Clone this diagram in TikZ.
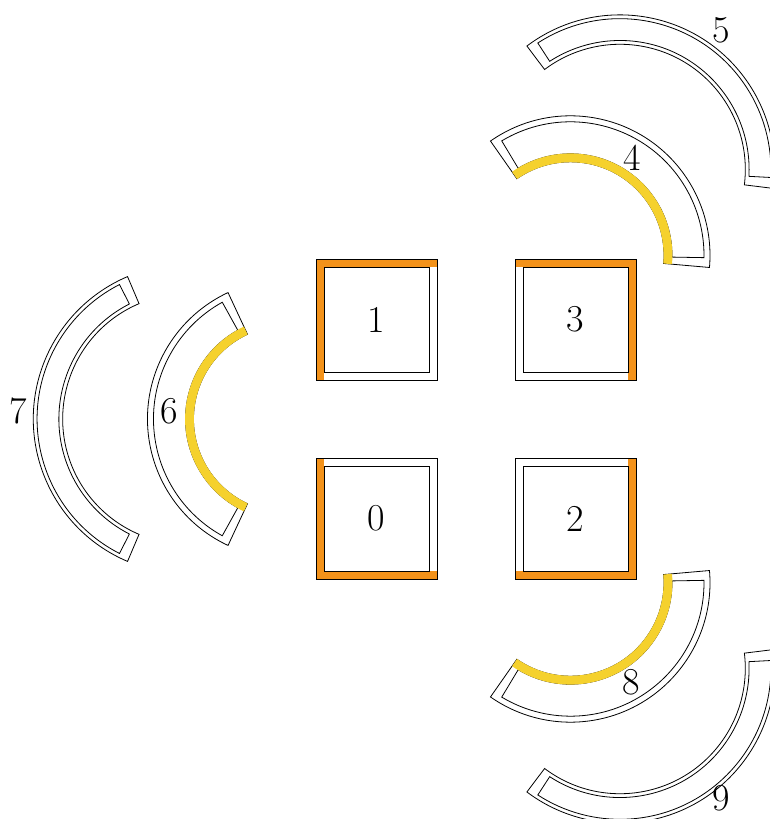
\documentclass[tikz,border=0pt]{standalone}
\usetikzlibrary{calc}
\definecolor{frameorange}{RGB}{243,146,26}
\definecolor{frameyellow}{RGB}{245,209,45}
\tikzset{
  outline/.style={draw=black, line width=0.8pt},
  numlabel/.style={inner sep=0pt, font=\fontsize{38}{40}\selectfont},
}
% inner ring piece with yellow inner strip: #1 centre, #2 middle angle
\newcommand\ringInner[2]{%
  \begin{scope}[shift={(#1)}]
    \draw[outline] ({#2-65}:93.5) arc[start angle={#2-65}, end angle={#2+65}, radius=93.5]
      -- ({#2+65}:139.5) arc[start angle={#2+65}, end angle={#2-65}, radius=139.5] -- cycle;
    \draw[outline] ({#2-61}:101.5) arc[start angle={#2-61}, end angle={#2+61}, radius=101.5]
      -- ({#2+61}:133.5) arc[start angle={#2+61}, end angle={#2-61}, radius=133.5] -- cycle;
    \fill[frameyellow] ({#2-65}:93.1) arc[start angle={#2-65}, end angle={#2+65}, radius=93.1]
      -- ({#2+65}:101.9) arc[start angle={#2+65}, end angle={#2-65}, radius=101.9] -- cycle;
  \end{scope}}
% outer ring piece: #1 centre, #2 middle angle
\newcommand\ringOuter[2]{%
  \begin{scope}[shift={(#1)}]
    \draw[outline] ({#2-67}:125.3) arc[start angle={#2-67}, end angle={#2+67}, radius=125.3]
      -- ({#2+67}:154.7) arc[start angle={#2+67}, end angle={#2-67}, radius=154.7] -- cycle;
    \draw[outline] ({#2-63}:129.1) arc[start angle={#2-63}, end angle={#2+63}, radius=129.1]
      -- ({#2+63}:150.9) arc[start angle={#2+63}, end angle={#2-63}, radius=150.9] -- cycle;
  \end{scope}}
\begin{document}
\begin{tikzpicture}[x=1pt,y=1pt]
  \useasboundingbox (-476,-400) rectangle (294,419);
  \fill[white] (-476,-400) rectangle (294,419);
  \clip (-476,-400) rectangle (294,419);

  % centres
  \coordinate (c6) at (180:189);
  \coordinate (c4) at (60:189);
  \coordinate (c8) at (-60:189);
  \coordinate (c7) at (180:288);
  \coordinate (c5) at (60:288);
  \coordinate (c9) at (-60:288);

  % squares
  % square 1 (top-left): top and left orange
  \begin{scope}[shift={(-99.5,99.5)}]
    \fill[frameorange] (-60.5,52.5) rectangle (60.5,60.5);
    \fill[frameorange] (-60.5,-60.5) rectangle (-52.5,60.5);
    \draw[outline] (-60.5,-60.5) rectangle (60.5,60.5);
    \draw[outline] (-52.5,-52.5) rectangle (52.5,52.5);
    \node[numlabel] (n1) at (0,0) {1};
  \end{scope}
  % square 3 (top-right): top and right
  \begin{scope}[shift={(99.5,99.5)}]
    \fill[frameorange] (-60.5,52.5) rectangle (60.5,60.5);
    \fill[frameorange] (52.5,-60.5) rectangle (60.5,60.5);
    \draw[outline] (-60.5,-60.5) rectangle (60.5,60.5);
    \draw[outline] (-52.5,-52.5) rectangle (52.5,52.5);
    \node[numlabel] (n3) at (0,0) {3};
  \end{scope}
  % square 0 (bottom-left): left and bottom
  \begin{scope}[shift={(-99.5,-99.5)}]
    \fill[frameorange] (-60.5,-60.5) rectangle (60.5,-52.5);
    \fill[frameorange] (-60.5,-60.5) rectangle (-52.5,60.5);
    \draw[outline] (-60.5,-60.5) rectangle (60.5,60.5);
    \draw[outline] (-52.5,-52.5) rectangle (52.5,52.5);
    \node[numlabel] (n0) at (0,0) {0};
  \end{scope}
  % square 2 (bottom-right): right and bottom
  \begin{scope}[shift={(99.5,-99.5)}]
    \fill[frameorange] (-60.5,-60.5) rectangle (60.5,-52.5);
    \fill[frameorange] (52.5,-60.5) rectangle (60.5,60.5);
    \draw[outline] (-60.5,-60.5) rectangle (60.5,60.5);
    \draw[outline] (-52.5,-52.5) rectangle (52.5,52.5);
    \node[numlabel] (n2) at (0,0) {2};
  \end{scope}

  % ring pieces
  \ringInner{c6}{180}
  \ringInner{c4}{60}
  \ringInner{c8}{-60}
  \ringOuter{c7}{180}
  \ringOuter{c5}{60}
  \ringOuter{c9}{-60}

  % labels
  \node[numlabel] (n6) at (-307,7.5) {6};
  \node[numlabel] (n7) at (-458,8) {7};
  \node[numlabel] (n4) at (156,261) {4};
  \node[numlabel] (n8) at (155.5,-263.5) {8};
  \node[numlabel] (n5) at (245,388.5) {5};
  \node[numlabel] (n9) at (245.5,-379) {9};
\end{tikzpicture}
\end{document}
